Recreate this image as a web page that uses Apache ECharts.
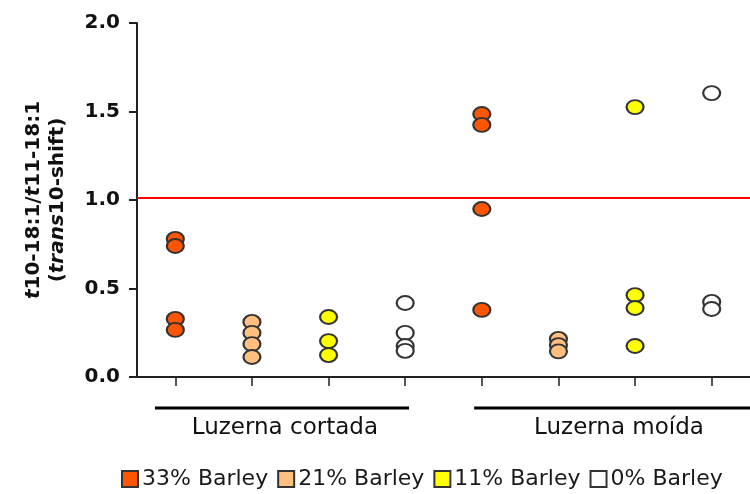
<!DOCTYPE html>
<html>
<head>
<meta charset="utf-8">
<script src="https://cdn.jsdelivr.net/npm/echarts@6/dist/echarts.min.js"></script>
<style>
html,body{margin:0;padding:0;background:#fff;}
#chart{width:750px;height:494px;}
</style>
</head>
<body>
<div id="chart"></div>
<script>
// ---- data ----
const groups = ['Luzerna cortada', 'Luzerna moída'];
const seriesNames = ['33% Barley', '21% Barley', '11% Barley', '0% Barley'];
const seriesColors = ['#FF5500', '#FFBF80', '#FFFF00', '#FFFFFF'];
// x positions: 8 slots, 1-4 = Luzerna cortada, 5-8 = Luzerna moída
const slots = ['c33', 'c21', 'c11', 'c0', 'm33', 'm21', 'm11', 'm0'];

const cortada33 = [0.78, 0.74, 0.328, 0.266];
const moida33 = [1.486, 1.424, 0.949, 0.379];
const cortada21 = [0.311, 0.249, 0.186, 0.113];
const moida21 = [0.215, 0.18, 0.145];
const cortada11 = [0.339, 0.203, 0.124];
const moida11 = [1.525, 0.463, 0.39, 0.175];
const cortada0 = [0.418, 0.249, 0.175, 0.148];
const moida0 = [1.604, 0.424, 0.384];

const referenceLine = 1.015;
const yMin = 0, yMax = 2, yStep = 0.5;

const seriesValues = [
  [cortada33, moida33],
  [cortada21, moida21],
  [cortada11, moida11],
  [cortada0, moida0]
];

// ---- chart ----
const FONT = 'DejaVu Sans';
const chart = echarts.init(document.getElementById('chart'), null, {renderer: 'canvas'});

const scatterSeries = seriesNames.map((name, i) => {
  const data = [];
  seriesValues[i][0].forEach(v => data.push([i, v]));
  seriesValues[i][1].forEach(v => data.push([i + 4, v]));
  const s = {
    name: name,
    type: 'scatter',
    xAxisIndex: 0,
    yAxisIndex: 0,
    symbol: 'circle',
    symbolSize: [17, 14],
    itemStyle: {color: seriesColors[i], borderColor: '#333', borderWidth: 2, opacity: 1},
    emphasis: {disabled: true},
    data: data,
    z: 3
  };
  if (i === 0) {
    s.markLine = {
      silent: true,
      symbol: ['none', 'none'],
      label: {show: false},
      lineStyle: {color: '#FF0000', width: 1.8, type: 'solid', opacity: 1},
      data: [{yAxis: referenceLine}],
      z: 2
    };
  }
  return s;
});

// group brackets and labels (second grid, same x scale)
const bracketData = [[0.734, 0.75], [4.05, 0.75], [4.4, '-'], [4.9, 0.75], [8.6, 0.75]];
const groupLabelData = [
  {name: groups[0], value: [2.43, 0.26]},
  {name: groups[1], value: [6.79, 0.26]}
];

const option = {
  backgroundColor: '#fff',
  animation: false,
  textStyle: {fontFamily: FONT},
  grid: [
    {left: 137, right: -3, top: 23, height: 354, containLabel: false},
    {left: 137, right: -3, top: 398, height: 40, containLabel: false}
  ],
  legend: {
    data: seriesNames,
    left: 116,
    top: 463,
    icon: 'rect',
    itemWidth: 16,
    itemHeight: 16,
    itemGap: 9,
    selectedMode: false,
    textStyle: {fontFamily: FONT, fontSize: 22, color: '#1a1a1a', padding: [0, 0, 0, -1]},
    itemStyle: {borderColor: '#333', borderWidth: 2, opacity: 1}
  },
  xAxis: [
    {
      type: 'category',
      gridIndex: 0,
      data: slots,
      boundaryGap: true,
      axisLine: {lineStyle: {color: '#222', width: 2}},
      axisTick: {show: true, alignWithLabel: true, length: 9, lineStyle: {color: '#222', width: 1.5}},
      axisLabel: {show: false},
      splitLine: {show: false}
    },
    {
      type: 'value',
      gridIndex: 1,
      min: 0.5,
      max: 8.5,
      show: false
    }
  ],
  yAxis: [
    {
      type: 'value',
      gridIndex: 0,
      min: yMin,
      max: yMax,
      interval: yStep,
      axisLine: {show: true, lineStyle: {color: '#222', width: 2}},
      axisTick: {show: true, length: 8, lineStyle: {color: '#222', width: 2}},
      axisLabel: {
        margin: 17,
        fontFamily: FONT,
        fontWeight: 'bold',
        fontSize: 20,
        color: '#111',
        formatter: v => v.toFixed(1)
      },
      splitLine: {show: false},
      name: '{it|t}{b|10-18:1/}{it|t}{b|11-18:1}\n{b|(}{it|trans}{b|10-shift)}',
      nameLocation: 'middle',
      nameRotate: 90,
      nameGap: 67,
      nameTextStyle: {
        fontFamily: FONT,
        fontSize: 20,
        fontWeight: 'bold',
        color: '#111',
        lineHeight: 24,
        rich: {
          it: {fontFamily: FONT, fontSize: 20, fontWeight: 'bold', fontStyle: 'italic', color: '#111', lineHeight: 24},
          b: {fontFamily: FONT, fontSize: 20, fontWeight: 'bold', color: '#111', lineHeight: 24}
        }
      }
    },
    {
      type: 'value',
      gridIndex: 1,
      min: 0,
      max: 1,
      show: false
    }
  ],
  series: scatterSeries.concat([
    {
      name: 'brackets',
      type: 'line',
      xAxisIndex: 1,
      yAxisIndex: 1,
      data: bracketData,
      showSymbol: false,
      symbol: 'none',
      connectNulls: false,
      lineStyle: {color: '#000', width: 3, opacity: 1},
      silent: true,
      clip: false
    },
    {
      name: 'groupLabels',
      type: 'scatter',
      xAxisIndex: 1,
      yAxisIndex: 1,
      symbolSize: 1,
      itemStyle: {color: 'transparent', opacity: 1},
      silent: true,
      data: groupLabelData,
      label: {
        show: true,
        position: 'inside',
        formatter: p => p.name,
        fontFamily: FONT,
        fontSize: 23,
        color: '#111',
        opacity: 1
      }
    }
  ])
};

chart.setOption(option);
</script>
</body>
</html>
